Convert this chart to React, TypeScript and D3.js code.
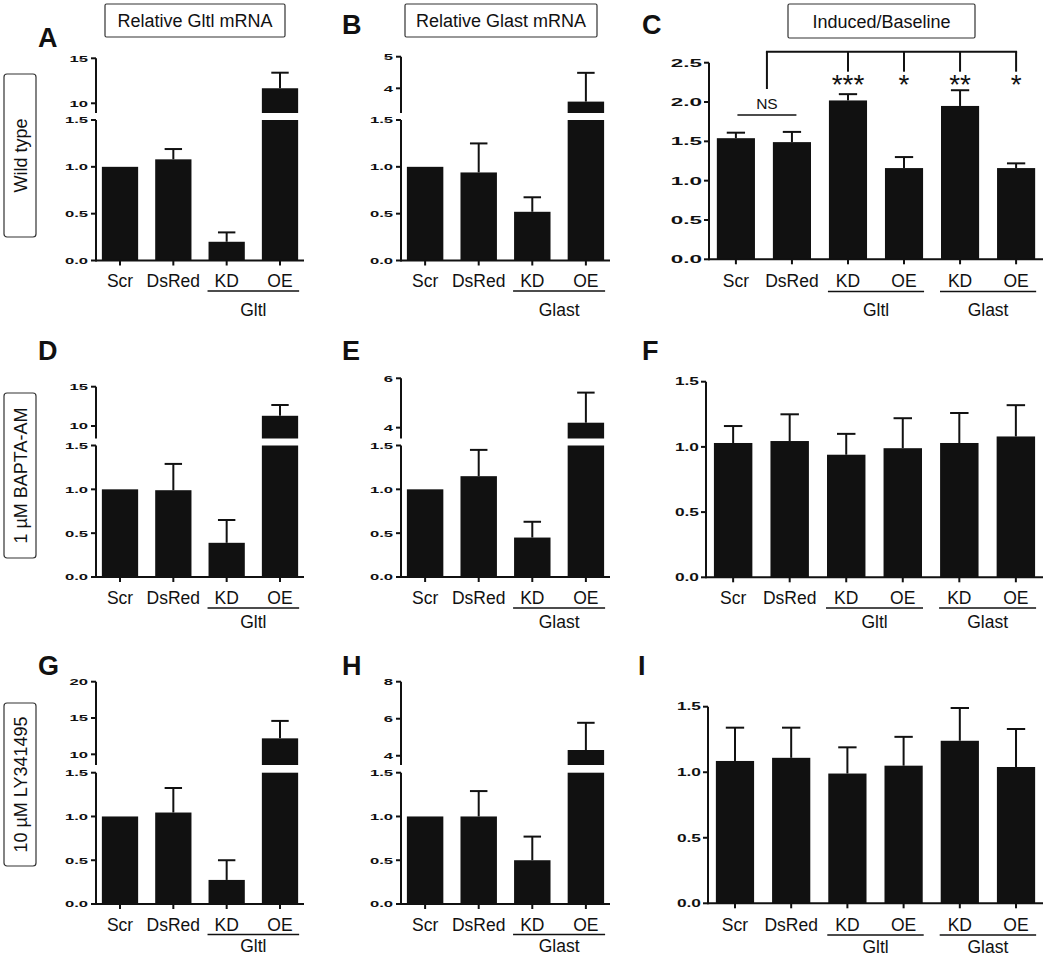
import React from "react";
import * as d3 from "d3";

const FONT = "'Liberation Sans', Arial, Helvetica, sans-serif";
const INK = "#111";

// ---------- text / categories ----------
const CATEGORIES_4 = ["Scr", "DsRed", "KD", "OE"];
const CATEGORIES_6 = ["Scr", "DsRed", "KD", "OE", "KD", "OE"];
const COLUMN_TITLES = ["Relative Gltl mRNA", "Relative Glast mRNA", "Induced/Baseline"];
const ROW_LABELS = ["Wild type", "1 \u00B5M BAPTA-AM", "10 \u00B5M LY341495"];
const PANEL_LETTERS = ["A", "B", "C", "D", "E", "F", "G", "H", "I"];
const GROUP_GLTL = "Gltl";
const GROUP_GLAST = "Glast";
const C_STARS = ["***", "*", "**", "*"];
const C_NS = "NS";

// ---------- ticks ----------
const LOWER_TICKS = [0, 0.5, 1.0, 1.5];
const C_TICKS = [0, 0.5, 1.0, 1.5, 2.0, 2.5];
const FI_TICKS = [0, 0.5, 1.0, 1.5];
const A_UPPER_TICKS = [10, 15];
const B_UPPER_TICKS = [4, 5];
const D_UPPER_TICKS = [10, 15];
const E_UPPER_TICKS = [4, 6];
const G_UPPER_TICKS = [10, 15, 20];
const H_UPPER_TICKS = [4, 6, 8];

// ---------- values (mean, SEM) ----------
const A_MEAN = [1.0, 1.08, 0.2, 11.67];
const A_SEM = [0, 0.11, 0.1, 1.73];
const B_MEAN = [1.0, 0.94, 0.52, 3.58];
const B_SEM = [0, 0.31, 0.155, 0.91];
const C_MEAN = [1.54, 1.49, 2.02, 1.16, 1.95, 1.16];
const C_SEM = [0.07, 0.13, 0.08, 0.14, 0.2, 0.06];
const D_MEAN = [1.0, 0.99, 0.39, 11.3];
const D_SEM = [0, 0.3, 0.26, 1.37];
const E_MEAN = [1.0, 1.15, 0.45, 4.2];
const E_SEM = [0, 0.3, 0.18, 1.22];
const F_MEAN = [1.03, 1.045, 0.94, 0.99, 1.03, 1.08];
const F_SEM = [0.13, 0.205, 0.16, 0.23, 0.23, 0.24];
const G_MEAN = [1.0, 1.045, 0.275, 12.2];
const G_SEM = [0, 0.28, 0.225, 2.4];
const H_MEAN = [1.0, 1.0, 0.5, 4.31];
const H_SEM = [0, 0.29, 0.27, 1.47];
const I_MEAN = [1.086, 1.11, 0.99, 1.05, 1.24, 1.04];
const I_SEM = [0.254, 0.23, 0.2, 0.22, 0.25, 0.29];

// lower bound of the upper (broken) axis segment
const A_UPPER_MIN = 8.92;
const B_UPPER_MIN = 3.22;
const D_UPPER_MIN = 8.41;
const E_UPPER_MIN = 3.56;
const G_UPPER_MIN = 8.53;
const H_UPPER_MIN = 3.5;

// ---------- layout ----------
const LETTER_POS = [
  [38, 47], [342, 34], [642, 34],
  [38, 360], [342, 360], [642, 360],
  [38, 675], [342, 675], [638, 675],
];
const TITLE_BOX = [
  [105, 4, 180, 33],
  [405, 4, 192, 33],
  [788, 4, 187, 34],
];
const ROW_BOX = [
  [4, 74, 32, 163],
  [4, 393, 32, 165],
  [4, 703, 32, 163],
];

type Geo = {
  axisX: number; xEnd: number; base: number; top: number;
  lowTop?: number; gapTop?: number;
  labelY: number; lineY: number; groupY: number;
  outer: number; tickFont: number; tickScale: number;
};

const CAT_FONT = 17.5;

function bandScale(n: number, g: Geo) {
  return d3
    .scaleBand<number>()
    .domain(d3.range(n))
    .range([g.axisX, g.xEnd])
    .paddingInner(0.32)
    .paddingOuter(g.outer);
}

function TickLabel({ x, y, text, g }: { x: number; y: number; text: string; g: Geo }) {
  return (
    <text
      transform={`translate(${x},${y + g.tickFont * 0.36}) scale(${g.tickScale},1)`}
      textAnchor="end"
      fontFamily={FONT}
      fontWeight="bold"
      fontSize={g.tickFont}
      fill={INK}
    >
      {text}
    </text>
  );
}

function CategoryAxis({
  x, g, cats, groups,
}: {
  x: d3.ScaleBand<number>; g: Geo; cats: string[];
  groups: { label: string; from: number; to: number }[];
}) {
  const bw = x.bandwidth();
  return (
    <g>
      <line x1={g.axisX} x2={g.xEnd} y1={g.base} y2={g.base} stroke={INK} strokeWidth={2} />
      {cats.map((c, i) => {
        const cx = (x(i) as number) + bw / 2;
        return (
          <g key={i}>
            <line x1={cx} x2={cx} y1={g.base} y2={g.base + 5} stroke={INK} strokeWidth={2} />
            <text x={cx} y={g.labelY} textAnchor="middle" fontFamily={FONT} fontSize={CAT_FONT} fill={INK}>
              {c}
            </text>
          </g>
        );
      })}
      {groups.map((gr, i) => {
        const x1 = (x(gr.from) as number) - 1;
        const x2 = (x(gr.to) as number) + bw + 1;
        return (
          <g key={i}>
            <line x1={x1} x2={x2} y1={g.lineY} y2={g.lineY} stroke={INK} strokeWidth={1.6} />
            <text x={(x1 + x2) / 2} y={g.groupY} textAnchor="middle" fontFamily={FONT} fontSize={CAT_FONT} fill={INK}>
              {gr.label}
            </text>
          </g>
        );
      })}
    </g>
  );
}

function ErrorBar({ cx, y0, y1, w }: { cx: number; y0: number; y1: number; w: number }) {
  return (
    <g>
      <line x1={cx} x2={cx} y1={y0} y2={y1} stroke={INK} strokeWidth={2} />
      <line x1={cx - w / 2} x2={cx + w / 2} y1={y1} y2={y1} stroke={INK} strokeWidth={2} />
    </g>
  );
}

function BrokenPanel({
  mean, sem, upperTicks, upperMin, g, group,
}: {
  mean: number[]; sem: number[]; upperTicks: number[]; upperMin: number; g: Geo; group: string;
}) {
  const x = bandScale(mean.length, g);
  const bw = x.bandwidth();
  const yL = d3.scaleLinear().domain([0, 1.5]).range([g.base, g.lowTop as number]);
  const yU = d3
    .scaleLinear()
    .domain([upperMin, upperTicks[upperTicks.length - 1]])
    .range([g.gapTop as number, g.top]);
  const fmtL = d3.format(".1f");
  const fmtU = d3.format("d");
  return (
    <g>
      {mean.map((v, i) => {
        const bx = x(i) as number;
        const cx = bx + bw / 2;
        const hi = v + sem[i];
        if (v <= 1.5) {
          return (
            <g key={i}>
              {sem[i] > 0 && <ErrorBar cx={cx} y0={yL(v)} y1={yL(hi)} w={bw * 0.48} />}
              <rect x={bx} y={yL(v)} width={bw} height={g.base - yL(v)} fill={INK} />
            </g>
          );
        }
        return (
          <g key={i}>
            <rect x={bx} y={yL(1.5)} width={bw} height={g.base - yL(1.5)} fill={INK} />
            <ErrorBar cx={cx} y0={yU(v)} y1={yU(hi)} w={bw * 0.48} />
            <rect x={bx} y={yU(v)} width={bw} height={(g.gapTop as number) - yU(v)} fill={INK} />
          </g>
        );
      })}
      <line x1={g.axisX} x2={g.axisX} y1={g.base + 1} y2={yL(1.5)} stroke={INK} strokeWidth={2} />
      {LOWER_TICKS.map((t) => (
        <g key={"l" + t}>
          <line x1={g.axisX - 5} x2={g.axisX} y1={yL(t)} y2={yL(t)} stroke={INK} strokeWidth={2} />
          <TickLabel x={g.axisX - 8} y={yL(t)} text={fmtL(t)} g={g} />
        </g>
      ))}
      <line x1={g.axisX} x2={g.axisX} y1={g.gapTop as number} y2={g.top} stroke={INK} strokeWidth={2} />
      {upperTicks.map((t) => (
        <g key={"u" + t}>
          <line x1={g.axisX - 5} x2={g.axisX} y1={yU(t)} y2={yU(t)} stroke={INK} strokeWidth={2} />
          <TickLabel x={g.axisX - 8} y={yU(t)} text={fmtU(t)} g={g} />
        </g>
      ))}
      <CategoryAxis x={x} g={g} cats={CATEGORIES_4} groups={[{ label: group, from: 2, to: 3 }]} />
    </g>
  );
}

function SimplePanel({
  mean, sem, ticks, g, children,
}: {
  mean: number[]; sem: number[]; ticks: number[]; g: Geo;
  children?: (x: d3.ScaleBand<number>, y: d3.ScaleLinear<number, number>) => React.ReactNode;
}) {
  const x = bandScale(mean.length, g);
  const bw = x.bandwidth();
  const y = d3.scaleLinear().domain([0, ticks[ticks.length - 1]]).range([g.base, g.top]);
  const fmt = d3.format(".1f");
  return (
    <g>
      {mean.map((v, i) => {
        const bx = x(i) as number;
        const cx = bx + bw / 2;
        return (
          <g key={i}>
            <ErrorBar cx={cx} y0={y(v)} y1={y(v + sem[i])} w={bw * 0.48} />
            <rect x={bx} y={y(v)} width={bw} height={g.base - y(v)} fill={INK} />
          </g>
        );
      })}
      <line x1={g.axisX} x2={g.axisX} y1={g.base + 1} y2={g.top} stroke={INK} strokeWidth={2} />
      {ticks.map((t) => (
        <g key={t}>
          <line x1={g.axisX - 5} x2={g.axisX} y1={y(t)} y2={y(t)} stroke={INK} strokeWidth={2} />
          <TickLabel x={g.axisX - 7} y={y(t)} text={fmt(t)} g={g} />
        </g>
      ))}
      <CategoryAxis
        x={x}
        g={g}
        cats={CATEGORIES_6}
        groups={[
          { label: GROUP_GLTL, from: 2, to: 3 },
          { label: GROUP_GLAST, from: 4, to: 5 },
        ]}
      />
      {children && children(x, y)}
    </g>
  );
}

const COL1 = { axisX: 96, xEnd: 304, outer: 0.11, tickFont: 9.5, tickScale: 1.75 };
const COL2 = { axisX: 401, xEnd: 610, outer: 0.11, tickFont: 9.5, tickScale: 1.75 };
const ROW1B = { base: 260.5, lowTop: 120, gapTop: 113, labelY: 287, lineY: 291, groupY: 316 };
const ROW2B = { base: 577, lowTop: 445.5, gapTop: 438.5, labelY: 603.5, lineY: 608, groupY: 628 };
const ROW3B = { base: 904, lowTop: 772.7, gapTop: 765, labelY: 930.5, lineY: 934.5, groupY: 952 };

const GEO_A: Geo = { ...COL1, ...ROW1B, top: 58.3 };
const GEO_B: Geo = { ...COL2, ...ROW1B, top: 56.7 };
const GEO_D: Geo = { ...COL1, ...ROW2B, top: 386.7 };
const GEO_E: Geo = { ...COL2, ...ROW2B, top: 378.3 };
const GEO_G: Geo = { ...COL1, ...ROW3B, top: 681.7 };
const GEO_H: Geo = { ...COL2, ...ROW3B, top: 681.7 };
const GEO_C: Geo = {
  axisX: 709, xEnd: 1043, outer: 0.14, tickFont: 11.5, tickScale: 1.95,
  base: 259.3, top: 62.7, labelY: 287, lineY: 291.5, groupY: 316,
};
const GEO_F: Geo = {
  axisX: 706, xEnd: 1043, outer: 0.14, tickFont: 10.5, tickScale: 1.65,
  base: 577.3, top: 381.7, labelY: 604, lineY: 608, groupY: 628,
};
const GEO_I: Geo = {
  axisX: 708, xEnd: 1043, outer: 0.14, tickFont: 10.5, tickScale: 1.65,
  base: 903.3, top: 706.7, labelY: 931, lineY: 935, groupY: 953,
};

function CAnnotations(x: d3.ScaleBand<number>) {
  const bw = x.bandwidth();
  const c = (i: number) => (x(i) as number) + bw / 2;
  const mid = (c(0) + c(1)) / 2 + 3;
  const topY = 51.7;
  const dropY = 71.7;
  return (
    <g>
      <line x1={mid - 29.5} x2={mid + 29.5} y1={115} y2={115} stroke={INK} strokeWidth={1.6} />
      <text x={mid} y={108.5} textAnchor="middle" fontFamily={FONT} fontSize={15.5} fill={INK}>
        {C_NS}
      </text>
      <line x1={mid} x2={mid} y1={topY} y2={89} stroke={INK} strokeWidth={2} />
      <line x1={mid - 1} x2={c(5) + 1} y1={topY} y2={topY} stroke={INK} strokeWidth={2} />
      {C_STARS.map((s, k) => {
        const cx = c(k + 2);
        return (
          <g key={k}>
            <line x1={cx} x2={cx} y1={topY} y2={dropY} stroke={INK} strokeWidth={2} />
            <text x={cx} y={94} textAnchor="middle" fontFamily={FONT} fontSize={28} fill={INK}>
              {s}
            </text>
          </g>
        );
      })}
    </g>
  );
}

export default function App() {
  return (
    <svg
      width={1050}
      height={958}
      viewBox="0 0 1050 958"
      style={{ position: "absolute", left: 0, top: 0, background: "#fff", display: "block" }}
    >
      <rect x={0} y={0} width={1050} height={958} fill="#fff" />
      {COLUMN_TITLES.map((t, i) => {
        const [bx, by, bw, bh] = TITLE_BOX[i];
        return (
          <g key={t}>
            <rect x={bx} y={by} width={bw} height={bh} fill="#fff" stroke="#333" strokeWidth={1.2} rx={1.5} />
            <text x={bx + bw / 2} y={by + bh / 2 + 6.5} textAnchor="middle" fontFamily={FONT} fontSize={18} fill={INK}>
              {t}
            </text>
          </g>
        );
      })}
      {ROW_LABELS.map((t, i) => {
        const [bx, by, bw, bh] = ROW_BOX[i];
        const cx = bx + bw / 2;
        const cy = by + bh / 2;
        return (
          <g key={t}>
            <rect x={bx} y={by} width={bw} height={bh} fill="#fff" stroke="#333" strokeWidth={1.2} rx={3} />
            <text
              transform={`translate(${cx + 6.5},${cy}) rotate(-90)`}
              textAnchor="middle"
              fontFamily={FONT}
              fontSize={18}
              fill={INK}
            >
              {t}
            </text>
          </g>
        );
      })}
      {PANEL_LETTERS.map((l, i) => (
        <text key={l} x={LETTER_POS[i][0]} y={LETTER_POS[i][1]} fontFamily={FONT} fontWeight="bold" fontSize={27} fill={INK}>
          {l}
        </text>
      ))}

      <BrokenPanel mean={A_MEAN} sem={A_SEM} upperTicks={A_UPPER_TICKS} upperMin={A_UPPER_MIN} g={GEO_A} group={GROUP_GLTL} />
      <BrokenPanel mean={B_MEAN} sem={B_SEM} upperTicks={B_UPPER_TICKS} upperMin={B_UPPER_MIN} g={GEO_B} group={GROUP_GLAST} />
      <SimplePanel mean={C_MEAN} sem={C_SEM} ticks={C_TICKS} g={GEO_C}>
        {(x) => CAnnotations(x)}
      </SimplePanel>

      <BrokenPanel mean={D_MEAN} sem={D_SEM} upperTicks={D_UPPER_TICKS} upperMin={D_UPPER_MIN} g={GEO_D} group={GROUP_GLTL} />
      <BrokenPanel mean={E_MEAN} sem={E_SEM} upperTicks={E_UPPER_TICKS} upperMin={E_UPPER_MIN} g={GEO_E} group={GROUP_GLAST} />
      <SimplePanel mean={F_MEAN} sem={F_SEM} ticks={FI_TICKS} g={GEO_F} />

      <BrokenPanel mean={G_MEAN} sem={G_SEM} upperTicks={G_UPPER_TICKS} upperMin={G_UPPER_MIN} g={GEO_G} group={GROUP_GLTL} />
      <BrokenPanel mean={H_MEAN} sem={H_SEM} upperTicks={H_UPPER_TICKS} upperMin={H_UPPER_MIN} g={GEO_H} group={GROUP_GLAST} />
      <SimplePanel mean={I_MEAN} sem={I_SEM} ticks={FI_TICKS} g={GEO_I} />
    </svg>
  );
}
